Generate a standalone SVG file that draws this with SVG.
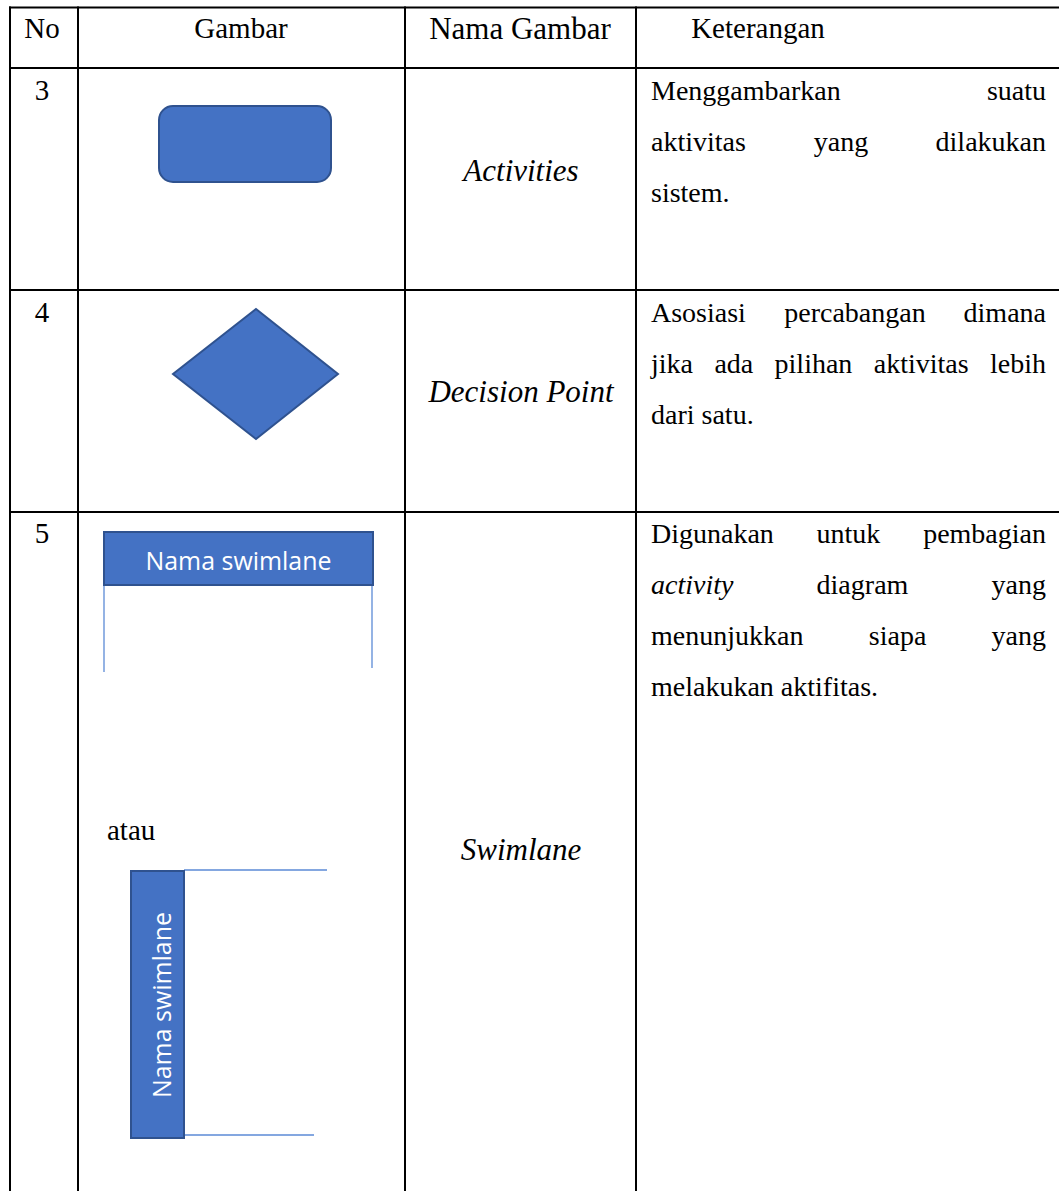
<svg xmlns="http://www.w3.org/2000/svg" width="1059" height="1191" viewBox="0 0 1059 1191">
<style>
.t{font-family:"Liberation Serif","Times New Roman",serif;font-size:29px;fill:#000}
.k{font-size:28px}
.n{font-size:31px}
.i{font-style:italic}
.m{text-anchor:middle}
.e{text-anchor:end}
.grid{stroke:#000;stroke-width:2;fill:none}
.shape{fill:#4472C4;stroke:#2F528F;stroke-width:2}
.lane{stroke:#5B8AD6;stroke-width:1.3;fill:none}
.lt{font-family:"Open Sans","Noto Sans",sans-serif;font-size:25px;fill:#fff}
</style>
<rect width="1059" height="1191" fill="#fff"/>
<g id="table" class="grid">
<line x1="9" y1="7.5" x2="1059" y2="7.5"/>
<line x1="9" y1="68" x2="1059" y2="68"/>
<line x1="9" y1="290" x2="1059" y2="290"/>
<line x1="9" y1="512" x2="1059" y2="512"/>
<line x1="10" y1="6.5" x2="10" y2="1191"/>
<line x1="78" y1="6.5" x2="78" y2="1191"/>
<line x1="405" y1="6.5" x2="405" y2="1191"/>
<line x1="636" y1="6.5" x2="636" y2="1191"/>
</g>
<g id="header">
<text class="t m" x="42" y="38">No</text>
<text class="t m" x="241" y="38">Gambar</text>
<text class="t n m" x="520" y="39">Nama Gambar</text>
<text class="t m" x="758" y="38">Keterangan</text>
</g>
<g id="row3">
<text class="t m" x="42" y="100">3</text>
<rect class="shape" x="159" y="106" width="172" height="76" rx="14"/>
<text class="t n i m" x="521" y="181">Activities</text>
<text class="t k" x="651" y="100">Menggambarkan</text>
<text class="t k e" x="1046" y="100">suatu</text>
<text class="t k" x="651" y="151">aktivitas</text>
<text class="t k m" x="841" y="151">yang</text>
<text class="t k e" x="1046" y="151">dilakukan</text>
<text class="t k" x="651" y="202">sistem.</text>
</g>
<g id="row4">
<text class="t m" x="42" y="322">4</text>
<polygon class="shape" points="256,309 338,374 256,439 173,374"/>
<text class="t n i m" x="521" y="402">Decision Point</text>
<text class="t k" x="651" y="322">Asosiasi</text>
<text class="t k m" x="855" y="322">percabangan</text>
<text class="t k e" x="1046" y="322">dimana</text>
<text class="t k" x="651" y="373">jika</text>
<text class="t k" x="714.4" y="373">ada</text>
<text class="t k" x="774.6" y="373">pilihan</text>
<text class="t k" x="873.8" y="373">aktivitas</text>
<text class="t k e" x="1046" y="373">lebih</text>
<text class="t k" x="651" y="424">dari satu.</text>
</g>
<g id="row5">
<text class="t m" x="42" y="543">5</text>
<g id="swimlane-horizontal">
<line class="lane" x1="104" y1="585" x2="104" y2="672"/>
<line class="lane" x1="372" y1="585" x2="372" y2="668"/>
<rect class="shape" x="104" y="532" width="269" height="53"/>
<text class="lt m" x="238.5" y="570" textLength="186" lengthAdjust="spacingAndGlyphs">Nama swimlane</text>
</g>
<text class="t" x="107" y="840">atau</text>
<g id="swimlane-vertical">
<line class="lane" x1="184" y1="870" x2="327" y2="870"/>
<line class="lane" x1="184" y1="1135" x2="314" y2="1135"/>
<rect class="shape" x="131" y="871" width="53" height="267"/>
<text class="lt m" transform="translate(171,1005) rotate(-90)" textLength="186" lengthAdjust="spacingAndGlyphs">Nama swimlane</text>
</g>
<text class="t n i m" x="521" y="860">Swimlane</text>
<text class="t k" x="651" y="543">Digunakan</text>
<text class="t k" x="816.6" y="543">untuk</text>
<text class="t k e" x="1046" y="543">pembagian</text>
<text class="t k i" x="651" y="594">activity</text>
<text class="t k" x="816.6" y="594">diagram</text>
<text class="t k e" x="1046" y="594">yang</text>
<text class="t k" x="651" y="645">menunjukkan</text>
<text class="t k" x="868.8" y="645">siapa</text>
<text class="t k e" x="1046" y="645">yang</text>
<text class="t k" x="651" y="696">melakukan aktifitas.</text>
</g>
</svg>
